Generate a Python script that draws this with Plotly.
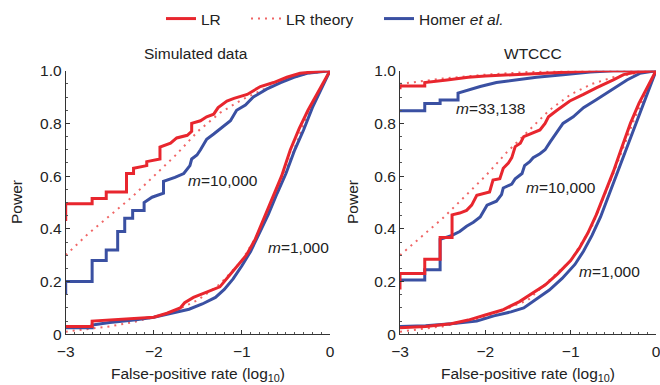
import plotly.graph_objects as go

# ---------------- data (log10 false-positive rate, power) ----------------
# Simulated data, m = 10,000
sim10k_lr_x = [-3, -3, -2.70, -2.70, -2.54, -2.54, -2.31, -2.31, -2.23, -2.23, -2.08, -2.08, -1.93, -1.93,
               -1.81, -1.74, -1.62, -1.57, -1.57, -1.47, -1.40, -1.32, -1.27, -1.17, -1.09, -0.94, -0.79,
               -0.64, -0.49, -0.34, -0.19, 0]
sim10k_lr_y = [0.43, 0.495, 0.495, 0.515, 0.515, 0.54, 0.54, 0.61, 0.61, 0.63, 0.64, 0.655, 0.665, 0.71,
               0.725, 0.745, 0.755, 0.77, 0.80, 0.81, 0.825, 0.835, 0.86, 0.885, 0.895, 0.91, 0.94,
               0.955, 0.975, 0.99, 0.995, 1.0]
sim10k_homer_x = [-3, -3, -2.70, -2.70, -2.54, -2.54, -2.41, -2.41, -2.33, -2.33, -2.24, -2.24, -2.11, -2.11,
                  -2.02, -1.89, -1.89, -1.76, -1.66, -1.59, -1.57, -1.51, -1.47, -1.40, -1.32, -1.23, -1.13,
                  -1.06, -0.96, -0.87, -0.72, -0.56, -0.41, -0.26, 0]
sim10k_homer_y = [0.15, 0.20, 0.20, 0.28, 0.28, 0.32, 0.32, 0.39, 0.39, 0.44, 0.44, 0.47, 0.47, 0.50,
                  0.52, 0.535, 0.58, 0.595, 0.61, 0.64, 0.665, 0.68, 0.70, 0.74, 0.76, 0.785, 0.81,
                  0.85, 0.87, 0.90, 0.93, 0.955, 0.975, 0.99, 1.0]
sim10k_theory_x = [-3, -2.75, -2.5, -2.25, -2.0, -1.75, -1.5, -1.25, -1.0, -0.75, -0.5, -0.25, 0]
sim10k_theory_y = [0.30, 0.38, 0.45, 0.52, 0.60, 0.68, 0.77, 0.84, 0.89, 0.93, 0.965, 0.99, 1.0]

# Simulated data, m = 1,000
sim1k_lr_x = [-3, -2.70, -2.70, -2.5, -2.2, -2.0, -1.85, -1.7, -1.65, -1.55, -1.4, -1.25, -1.15, -1.05,
              -0.95, -0.85, -0.75, -0.65, -0.55, -0.45, -0.35, -0.25, -0.15, -0.08, 0]
sim1k_lr_y = [0.03, 0.03, 0.05, 0.055, 0.06, 0.065, 0.08, 0.10, 0.12, 0.14, 0.16, 0.18, 0.22, 0.26,
              0.30, 0.36, 0.44, 0.52, 0.60, 0.70, 0.78, 0.85, 0.91, 0.95, 1.0]
sim1k_homer_x = [-3, -2.70, -2.70, -2.5, -2.2, -2.0, -1.8, -1.6, -1.45, -1.3, -1.2, -1.1, -1.0, -0.9,
                 -0.8, -0.7, -0.6, -0.5, -0.4, -0.3, -0.2, -0.1, 0]
sim1k_homer_y = [0.025, 0.025, 0.035, 0.045, 0.055, 0.065, 0.08, 0.095, 0.115, 0.14, 0.17, 0.21, 0.26, 0.315,
                 0.385, 0.455, 0.535, 0.61, 0.70, 0.775, 0.86, 0.93, 1.0]
sim1k_theory_x = [-3, -2.75, -2.5, -2.25, -2.0, -1.75, -1.5, -1.25, -1.0, -0.75, -0.5, -0.25, 0]
sim1k_theory_y = [0.01, 0.02, 0.03, 0.045, 0.065, 0.09, 0.13, 0.19, 0.28, 0.42, 0.62, 0.84, 1.0]

# WTCCC, m = 33,138
wt33k_lr_x = [-3, -3, -2.71, -2.71, -2.45, -2.2, -2.0, -1.7, -1.4, -1.0, -0.7, 0]
wt33k_lr_y = [0.93, 0.942, 0.942, 0.955, 0.965, 0.975, 0.98, 0.985, 0.99, 0.995, 1.0, 1.0]
wt33k_homer_x = [-3, -2.71, -2.71, -2.53, -2.53, -2.32, -2.32, -2.18, -2.06, -1.87, -1.63, -1.40, -1.09,
                 -0.77, -0.5, 0]
wt33k_homer_y = [0.848, 0.848, 0.876, 0.876, 0.889, 0.889, 0.915, 0.93, 0.94, 0.955, 0.965, 0.975, 0.985,
                 0.995, 1.0, 1.0]
wt33k_theory_x = [-3, -2.5, -2.0, -1.5, -1.0, 0]
wt33k_theory_y = [0.95, 0.97, 0.985, 0.995, 1.0, 1.0]

# WTCCC, m = 10,000
wt10k_lr_x = [-3, -3, -2.71, -2.71, -2.53, -2.53, -2.39, -2.39, -2.30, -2.22, -2.16, -2.10, -1.95, -1.91,
              -1.83, -1.79, -1.73, -1.69, -1.65, -1.59, -1.55, -1.48, -1.36, -1.30, -1.26, -1.16, -1.01,
              -0.85, -0.70, -0.5, -0.38, -0.23, 0]
wt10k_lr_y = [0.17, 0.231, 0.231, 0.285, 0.285, 0.367, 0.367, 0.453, 0.46, 0.47, 0.49, 0.527, 0.54, 0.585,
              0.59, 0.63, 0.65, 0.67, 0.712, 0.725, 0.75, 0.76, 0.775, 0.80, 0.825, 0.85, 0.885,
              0.91, 0.935, 0.965, 0.985, 0.995, 1.0]
wt10k_homer_x = [-3, -2.71, -2.71, -2.53, -2.53, -2.39, -2.30, -2.22, -2.14, -2.06, -1.98, -1.87, -1.81,
                 -1.79, -1.69, -1.65, -1.57, -1.54, -1.48, -1.44, -1.36, -1.30, -1.24, -1.16, -1.09,
                 -0.97, -0.85, -0.70, -0.5, -0.34, -0.19, 0]
wt10k_homer_y = [0.206, 0.206, 0.245, 0.245, 0.36, 0.375, 0.39, 0.41, 0.425, 0.445, 0.49, 0.505, 0.53,
                 0.555, 0.57, 0.59, 0.61, 0.64, 0.655, 0.67, 0.685, 0.70, 0.73, 0.77, 0.80,
                 0.825, 0.86, 0.89, 0.93, 0.965, 0.99, 1.0]
wt10k_theory_x = [-3, -2.75, -2.5, -2.25, -2.0, -1.75, -1.5, -1.25, -1.0, -0.75, -0.5, -0.25, 0]
wt10k_theory_y = [0.30, 0.37, 0.44, 0.52, 0.60, 0.69, 0.77, 0.85, 0.91, 0.95, 0.975, 0.99, 1.0]

# WTCCC, m = 1,000
wt1k_lr_x = [-3, -2.7, -2.4, -2.2, -2.0, -1.8, -1.6, -1.45, -1.3, -1.15, -1.0, -0.9, -0.8, -0.7, -0.6,
             -0.5, -0.4, -0.3, -0.2, -0.1, 0]
wt1k_lr_y = [0.025, 0.03, 0.04, 0.054, 0.073, 0.092, 0.124, 0.155, 0.187, 0.23, 0.28, 0.326, 0.383, 0.453,
             0.535, 0.617, 0.71, 0.80, 0.876, 0.94, 1.0]
wt1k_homer_x = [-3, -2.7, -2.4, -2.1, -1.9, -1.7, -1.55, -1.4, -1.25, -1.1, -0.95, -0.85, -0.75, -0.65,
                -0.55, -0.45, -0.35, -0.25, -0.15, -0.07, 0]
wt1k_homer_y = [0.03, 0.032, 0.04, 0.05, 0.07, 0.085, 0.10, 0.135, 0.168, 0.212, 0.265, 0.315, 0.375, 0.445,
                0.53, 0.615, 0.70, 0.79, 0.87, 0.94, 1.0]
wt1k_theory_x = [-3, -2.5, -2.0, -1.5, -1.0, -0.75, -0.5, -0.25, 0]
wt1k_theory_y = [0.01, 0.03, 0.065, 0.13, 0.28, 0.41, 0.61, 0.82, 1.0]

x_ticks = [-3, -2, -1, 0]
x_tick_labels = ["\u22123", "\u22122", "\u22121", "0"]
y_ticks = [0, 0.2, 0.4, 0.6, 0.8, 1.0]
y_tick_labels = ["0", "0.2", "0.4", "0.6", "0.8", "1.0"]

panel_titles = ["Simulated data", "WTCCC"]
m_labels = [("<i>m</i>=10,000", -1.21, 0.585, 1), ("<i>m</i>=1,000", -0.36, 0.33, 1),
            ("<i>m</i>=33,138", -1.945, 0.855, 2), ("<i>m</i>=10,000", -1.11, 0.557, 2),
            ("<i>m</i>=1,000", -0.54, 0.24, 2)]

# ---------------- styles ----------------
RED = "#e8262e"
BLUE = "#3a50a2"
THEORY = "#f06666"
FONT = "Liberation Sans, Arial, sans-serif"
FS = 15.5

fig = go.Figure()

panels = [
    ("x", "y", [(sim10k_theory_x, sim10k_theory_y, sim10k_homer_x, sim10k_homer_y, sim10k_lr_x, sim10k_lr_y),
                (sim1k_theory_x, sim1k_theory_y, sim1k_homer_x, sim1k_homer_y, sim1k_lr_x, sim1k_lr_y)]),
    ("x2", "y2", [(wt33k_theory_x, wt33k_theory_y, wt33k_homer_x, wt33k_homer_y, wt33k_lr_x, wt33k_lr_y),
                  (wt10k_theory_x, wt10k_theory_y, wt10k_homer_x, wt10k_homer_y, wt10k_lr_x, wt10k_lr_y),
                  (wt1k_theory_x, wt1k_theory_y, wt1k_homer_x, wt1k_homer_y, wt1k_lr_x, wt1k_lr_y)]),
]

first = True
for xa, ya, groups in panels:
    for tx, ty, hx, hy, lx, ly in groups:
        fig.add_trace(go.Scatter(x=tx, y=ty, mode="lines", xaxis=xa, yaxis=ya,
                                 line=dict(color=THEORY, width=2, dash="2px,5px"),
                                 name="LR theory", legend="legend2", showlegend=first))
        fig.add_trace(go.Scatter(x=hx, y=hy, mode="lines", xaxis=xa, yaxis=ya,
                                 line=dict(color=BLUE, width=3),
                                 name="Homer <i>et al.</i>", legend="legend3", showlegend=first))
        fig.add_trace(go.Scatter(x=lx, y=ly, mode="lines", xaxis=xa, yaxis=ya,
                                 line=dict(color=RED, width=3),
                                 name="LR", legend="legend", showlegend=first))
        first = False

W, H = 660, 385
ydom = [(H - 334.3) / H, (H - 70.7) / H]
xdom1 = [65.7 / W, 330 / W]
xdom2 = [400 / W, 656 / W]

axis_common = dict(showgrid=False, zeroline=False, showline=True, linecolor="#333333", linewidth=1,
                   ticks="inside", ticklen=4, tickcolor="#333333", tickwidth=1, automargin=False,
                   tickfont=dict(family=FONT, size=FS, color="#222222"), mirror=False,
                   ticklabeloverflow="allow")

legend_common = dict(orientation="h", yanchor="middle", y=(H - 19) / H, xanchor="left",
                     font=dict(family=FONT, size=FS, color="#222222"), bgcolor="rgba(0,0,0,0)",
                     itemwidth=30)

fig.update_layout(
    width=W, height=H, margin=dict(l=0, r=0, t=0, b=0, autoexpand=False),
    paper_bgcolor="white", plot_bgcolor="white",
    font=dict(family=FONT, size=FS, color="#222222"),
    xaxis=dict(domain=xdom1, range=[-3, 0], tickvals=x_ticks, ticktext=x_tick_labels, anchor="y",
               ticklabelstandoff=3,
               minor=dict(ticks="inside", ticklen=2, dtick=0.1, tickcolor="#555555"), **axis_common),
    yaxis=dict(domain=ydom, range=[0, 1], tickvals=y_ticks, ticktext=y_tick_labels, anchor="x",
               minor=dict(ticks="inside", ticklen=2, dtick=0.05, tickcolor="#555555"), **axis_common),
    xaxis2=dict(domain=xdom2, range=[-3, 0], tickvals=x_ticks, ticktext=x_tick_labels, anchor="y2",
                ticklabelstandoff=3,
                minor=dict(ticks="inside", ticklen=2, dtick=0.1, tickcolor="#555555"), **axis_common),
    yaxis2=dict(domain=ydom, range=[0, 1], tickvals=y_ticks, ticktext=y_tick_labels, anchor="x2",
                minor=dict(ticks="inside", ticklen=2, dtick=0.05, tickcolor="#555555"), **axis_common),
    legend=dict(x=(169 - 8) / W, **legend_common),
    legend2=dict(x=(254 - 8) / W, **legend_common),
    legend3=dict(x=(387 - 8) / W, **legend_common),
    showlegend=True,
)

annotations = []
# panel titles
for title, cx in zip(panel_titles, [196, 533]):
    annotations.append(dict(text=title, x=cx / W, y=(H - 53) / H, xref="paper", yref="paper",
                            xanchor="center", yanchor="middle", showarrow=False, font=dict(size=FS)))
# x-axis titles
for cx in [(65.7 + 330) / 2, (400 + 656) / 2]:
    annotations.append(dict(text="False-positive rate (log<sub>10</sub>)", x=cx / W, y=(H - 374) / H,
                            xref="paper", yref="paper", xanchor="center", yanchor="middle",
                            showarrow=False, font=dict(size=FS)))
# y-axis titles
for cx in [17, 353]:
    annotations.append(dict(text="Power", x=cx / W, y=(H - 202) / H, xref="paper", yref="paper",
                            xanchor="center", yanchor="middle",
                            showarrow=False, textangle=-90, font=dict(size=FS)))
# curve labels
for txt, xv, yv, p in m_labels:
    annotations.append(dict(text=txt, x=xv, y=yv, xref="x" if p == 1 else "x2",
                            yref="y" if p == 1 else "y2", xanchor="center", yanchor="middle",
                            showarrow=False, font=dict(size=FS)))
fig.update_layout(annotations=annotations)

fig.write_html("out.html", config={"displayModeBar": False},
               post_script="document.body.style.margin='0';")
